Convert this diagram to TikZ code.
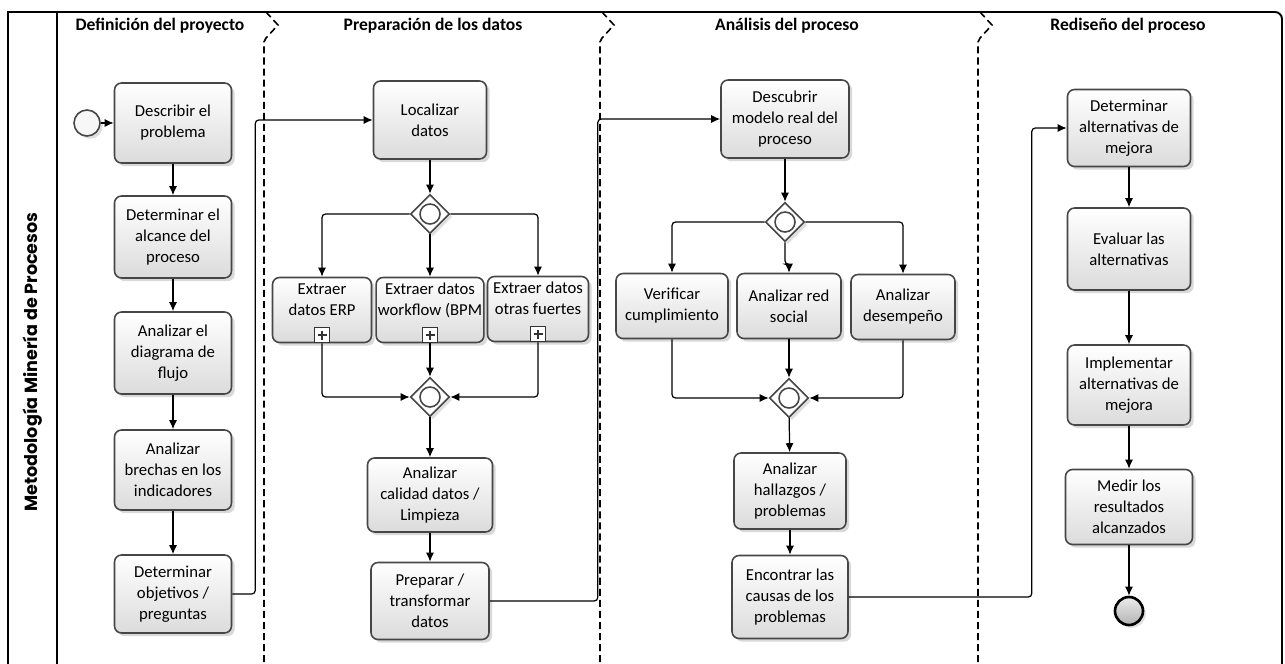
\documentclass[tikz,border=0pt]{standalone}
\usepackage{fontspec}
\setmainfont{Carlito}
\newfontfamily\poolfont{Poppins}
\usetikzlibrary{arrows.meta, shapes.geometric, shadows, positioning}

\tikzset{
  task/.style={draw=gray!55!black, line width=0.9pt, rounded corners=4pt,
    top color=white, bottom color=gray!28, align=center, inner sep=1pt,
    font=\fontsize{9.5}{12}\selectfont,
    drop shadow={opacity=0.3, shadow xshift=1.8pt, shadow yshift=-1.8pt}},
  plusbox/.style={draw=gray!40!black, line width=0.8pt, fill=white, anchor=south,
    minimum size=0.3cm, inner sep=0pt,
    path picture={\draw[line width=1.6pt]
      ([xshift=-0.09cm]path picture bounding box.center) -- ([xshift=0.09cm]path picture bounding box.center)
      ([yshift=-0.09cm]path picture bounding box.center) -- ([yshift=0.09cm]path picture bounding box.center);}},
  gate/.style={diamond, draw=gray!55!black, line width=0.9pt, fill=white,
    minimum width=0.78cm, minimum height=0.78cm, inner sep=0pt,
    drop shadow={opacity=0.25, shadow xshift=1.6pt, shadow yshift=-1.6pt},
    path picture={\draw[gray!55!black, line width=0.9pt] (path picture bounding box.center) circle (0.2cm);}},
  startevent/.style={circle, draw=gray!55!black, line width=0.9pt, fill=gray!6,
    minimum size=0.52cm, inner sep=0pt,
    drop shadow={opacity=0.25, shadow xshift=1.6pt, shadow yshift=-1.6pt}},
  stopevent/.style={circle, draw=black, line width=1.5pt, top color=gray!15, bottom color=gray!60,
    minimum size=0.56cm, inner sep=0pt,
    drop shadow={opacity=0.25, shadow xshift=1.6pt, shadow yshift=-1.6pt}},
  flow/.style={-{Latex[length=1.8mm, width=1.6mm]}, line width=0.7pt, rounded corners=2pt},
  phase/.style={dash pattern=on 4pt off 2.3pt, line width=0.9pt},
  lanetitle/.style={font=\fontsize{10}{12}\selectfont\bfseries},
}

\begin{document}
\begin{tikzpicture}[x=0.02cm, y=-0.02cm]
\useasboundingbox (0,0) rectangle (1285,663);

% pool and phases
\draw[line width=1.1pt] (8,670) -- (8,12) [rounded corners=4pt] -- (1282,12) -- (1282,670);
\draw[line width=1.1pt] (57,12) -- (57,670);
\node[rotate=90, font=\poolfont\bfseries\fontsize{10}{12}\selectfont] (pool) at (33,362) {Metodología Minería de Procesos};
\foreach \x in {264, 600, 978}
  \draw[phase] (\x+2,12) -- (\x+14,25) -- (\x+2,38) -- (\x,42) -- (\x,670);

\node[lanetitle] (lane1) at (160,26) {Definición del proyecto};
\node[lanetitle] (lane2) at (433,26) {Preparación de los datos};
\node[lanetitle] (lane3) at (787,26) {Análisis del proceso};
\node[lanetitle] (lane4) at (1128,26) {Rediseño del proceso};

% definicion del proyecto
\node[startevent] (start) at (87,123) {};
\node[task, minimum width=2.34cm, minimum height=1.6cm] (describir) at (173,123) {Describir el\\problema};
\node[task, minimum width=2.34cm, minimum height=1.64cm] (alcance) at (173,237) {Determinar el\\alcance del\\proceso};
\node[task, minimum width=2.34cm, minimum height=1.64cm] (flujo) at (173,353) {Analizar el\\diagrama de\\flujo};
\node[task, minimum width=2.34cm, minimum height=1.6cm] (brechas) at (173,470) {Analizar\\brechas en los\\indicadores};
\node[task, minimum width=2.34cm, minimum height=1.56cm] (objetivos) at (173,594) {Determinar\\objetivos /\\preguntas};

% preparacion de los datos
\node[task, minimum width=2.26cm, minimum height=1.56cm] (localizar) at (430,120) {Localizar\\datos};
\node[gate] (g1) at (430,214) {};
\node[task, minimum width=1.98cm, minimum height=1.3cm] (erp) at (322,310) {Extraer\\datos ERP\\\mbox{}};
\node[task, minimum width=2.02cm, minimum height=1.3cm] (workflow) at (430,310) {Extraer datos\\workflow (BPM\\\mbox{}};
\node[task, minimum width=2.02cm, minimum height=1.3cm] (otras) at (538,309) {Extraer datos\\otras fuertes\\\mbox{}};
\node[plusbox] (erpplus) at (erp.south) {};
\node[plusbox] (workflowplus) at (workflow.south) {};
\node[plusbox] (otrasplus) at (otras.south) {};
\node[gate] (g2) at (430,397) {};
\node[task, minimum width=2.5cm, minimum height=1.48cm] (calidad) at (430,495) {Analizar\\calidad datos /\\Limpieza};
\node[task, minimum width=2.36cm, minimum height=1.54cm] (preparar) at (430,601) {Preparar /\\transformar\\datos};

% analisis del proceso
\node[task, minimum width=2.56cm, minimum height=1.56cm] (descubrir) at (785,119) {Descubrir\\modelo real del\\proceso};
\node[gate] (g3) at (785,222) {};
\node[task, minimum width=2.24cm, minimum height=1.3cm] (verificar) at (672,306) {Verificar\\cumplimiento};
\node[task, minimum width=2.08cm, minimum height=1.3cm] (red) at (789,306) {Analizar red\\social};
\node[task, minimum width=2.08cm, minimum height=1.3cm] (desempeno) at (903,307) {Analizar\\desempeño};
\node[gate] (g4) at (789,398) {};
\node[task, minimum width=2.24cm, minimum height=1.52cm] (hallazgos) at (790,491) {Analizar\\hallazgos /\\problemas};
\node[task, minimum width=2.32cm, minimum height=1.66cm] (causas) at (790,597) {Encontrar las\\causas de los\\problemas};

% rediseno del proceso
\node[task, minimum width=2.46cm, minimum height=1.54cm] (alternativas) at (1129,128) {Determinar\\alternativas de\\mejora};
\node[task, minimum width=2.46cm, minimum height=1.64cm] (evaluar) at (1129,249) {Evaluar las\\alternativas};
\node[task, minimum width=2.46cm, minimum height=1.6cm] (implementar) at (1129,385) {Implementar\\alternativas de\\mejora};
\node[task, minimum width=2.54cm, minimum height=1.5cm] (medir) at (1129,507) {Medir los\\resultados\\alcanzados};
\node[stopevent] (fin) at (1129,611) {};

% flows
\draw[flow] (start) -- (describir);
\foreach \a/\b in {describir/alcance, alcance/flujo, flujo/brechas, brechas/objetivos,
    localizar/g1, g1/workflow, workflow/g2, g2/calidad, calidad/preparar,
    descubrir/g3, g4/hallazgos, hallazgos/causas,
    alternativas/evaluar, evaluar/implementar, implementar/medir, medir/fin}
  \draw[flow] (\a) -- (\b);
\draw[flow] (objetivos.east) -- ++(23,0) |- (localizar.west);
\draw[flow] (g1.west) -| (erp.north);
\draw[flow] (g1.east) -| (otras.north);
\draw[flow] (erp.south) |- (g2.west);
\draw[flow] (otras.south) |- (g2.east);
\draw[flow] (preparar.east) -- ++(108,0) |- (descubrir.west);
\draw[flow] (g3.west) -| (verificar.north);
\draw[flow] (g3.east) -| (desempeno.north);
\draw[flow] (g3.south) -- ++(0,22) -| (red.north);
\draw[flow] (red) -- (g4);
\draw[flow] (verificar.south) |- (g4.west);
\draw[flow] (desempeno.south) |- (g4.east);
\draw[flow] (causas.east) -- ++(183,0) |- (alternativas.west);
\end{tikzpicture}
\end{document}
